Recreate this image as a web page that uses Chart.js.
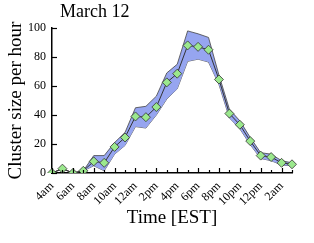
<!DOCTYPE html>
<html>
<head>
<meta charset="utf-8">
<script src="https://cdn.jsdelivr.net/npm/chart.js@4/dist/chart.umd.min.js"></script>
<style>
  html, body { margin: 0; padding: 0; background: #fff; }
  #wrap { width: 314px; height: 243px; }
</style>
</head>
<body>
<div id="wrap"><canvas id="clusterChart" width="314" height="243"></canvas></div>
<script>
// 시간 (라벨은 그림에 적힌 그대로)
const hours = ['4am', '5am', '6am', '7am', '8am', '9am', '10am', '11am', '12am', '1pm', '2pm', '3pm',
  '4pm', '5pm', '6pm', '7pm', '8pm', '9pm', '10pm', '11pm', '12pm', '1am', '2am', '3am'];

// 시간당 클러스터 크기 (평균)
const meanSize = [0, 3, 0, 1.5, 8, 7, 18, 24.5, 39, 38.5, 45.5, 62.5,
  68.5, 88, 87, 85, 64.5, 41, 33.3, 22, 12, 11, 7, 6];
// 범위 위/아래
const upperSize = [0, 3, 0, 1.5, 12, 12, 21, 28, 45, 46, 53, 69,
  75, 98, 96, 93.5, 67.5, 44, 36, 24.5, 14, 13, 8.5, 7];
const lowerSize = [0, 3, 0, 1.5, 5, 1.5, 13, 19, 32, 31, 40, 51,
  58, 77, 78.5, 76.5, 61, 38, 30.5, 19.5, 10, 8.5, 5.5, 5];

const serif = '"Liberation Serif", "DejaVu Serif", serif';

// 안쪽 방향 눈금
const inwardTicks = {
  id: 'inwardTicks',
  afterDatasetsDraw(chart) {
    const c = chart.ctx;
    const xs = chart.scales.x, ys = chart.scales.y;
    c.save();
    c.strokeStyle = '#000';
    c.lineWidth = 1.2;
    xs.ticks.forEach((t, i) => {
      const px = Math.round(xs.getPixelForTick(i)) + 0.5;
      const len = i % 2 === 0 ? 5 : 3;
      c.beginPath();
      c.moveTo(px, ys.bottom);
      c.lineTo(px, ys.bottom - len);
      c.stroke();
    });
    ys.ticks.forEach(t => {
      const py = Math.round(ys.getPixelForValue(t.value)) + 0.5;
      const len = t.value % 20 === 0 ? 5 : 3;
      c.beginPath();
      c.moveTo(xs.left, py);
      c.lineTo(xs.left + len, py);
      c.stroke();
    });
    c.restore();
  }
};

// 왼쪽 위 제목
const cornerTitle = {
  id: 'cornerTitle',
  afterDraw(chart) {
    const c = chart.ctx;
    c.save();
    c.fillStyle = '#000';
    c.font = '18px ' + serif;
    c.textBaseline = 'alphabetic';
    c.fillText('March 12', 60, 17);
    c.restore();
  }
};

const ctx = document.getElementById('clusterChart').getContext('2d');

new Chart(ctx, {
  type: 'line',
  data: {
    labels: hours,
    datasets: [
      {
        label: 'mean',
        data: meanSize,
        borderColor: '#333',
        borderWidth: 1,
        pointStyle: 'rectRot',
        pointRadius: 4.5,
        pointBackgroundColor: '#9be88d',
        pointBorderColor: '#333',
        pointBorderWidth: 0.8,
        fill: false,
        order: 0
      },
      {
        label: 'upper',
        data: upperSize,
        borderColor: '#444',
        borderWidth: 0.8,
        backgroundColor: 'rgb(150,165,240)',
        pointRadius: 0,
        fill: '+1',
        order: 1
      },
      {
        label: 'lower',
        data: lowerSize,
        borderColor: '#444',
        borderWidth: 0.8,
        pointRadius: 0,
        fill: false,
        order: 2
      }
    ]
  },
  options: {
    responsive: false,
    animation: false,
    layout: { padding: { top: 28, right: 22, left: 0, bottom: 14 } },
    plugins: {
      legend: { display: false },
      tooltip: { enabled: false },
      title: { display: false }
    },
    scales: {
      x: {
        offset: false,
        grid: { display: true, drawOnChartArea: false, drawTicks: false, offset: false },
        border: { color: '#000', width: 1.5 },
        ticks: {
          autoSkip: false,
          maxRotation: 45,
          minRotation: 45,
          padding: 6,
          color: '#000',
          font: { family: serif, size: 12 },
          callback: function(v, i) { return i % 2 === 0 ? hours[i] : ''; }
        },
        title: {
          display: true,
          text: 'Time [EST]',
          color: '#000',
          font: { family: serif, size: 19 },
          padding: { top: 0, bottom: 0 }
        },
        afterFit(scale) { scale.height = 56; }
      },
      y: {
        min: 0,
        max: 100,
        grid: { display: true, drawOnChartArea: false, drawTicks: false },
        border: { color: '#000', width: 1.5 },
        ticks: {
          stepSize: 10,
          padding: 6,
          color: '#000',
          font: { family: serif, size: 12 },
          callback: function(v) { return v % 20 === 0 ? v : ''; }
        },
        title: {
          display: true,
          text: 'Cluster size per hour',
          color: '#000',
          font: { family: serif, size: 19 },
          padding: { top: 5, bottom: 0 }
        },
        afterFit(scale) { scale.width = 52; }
      }
    }
  },
  plugins: [inwardTicks, cornerTitle]
});
</script>
</body>
</html>
